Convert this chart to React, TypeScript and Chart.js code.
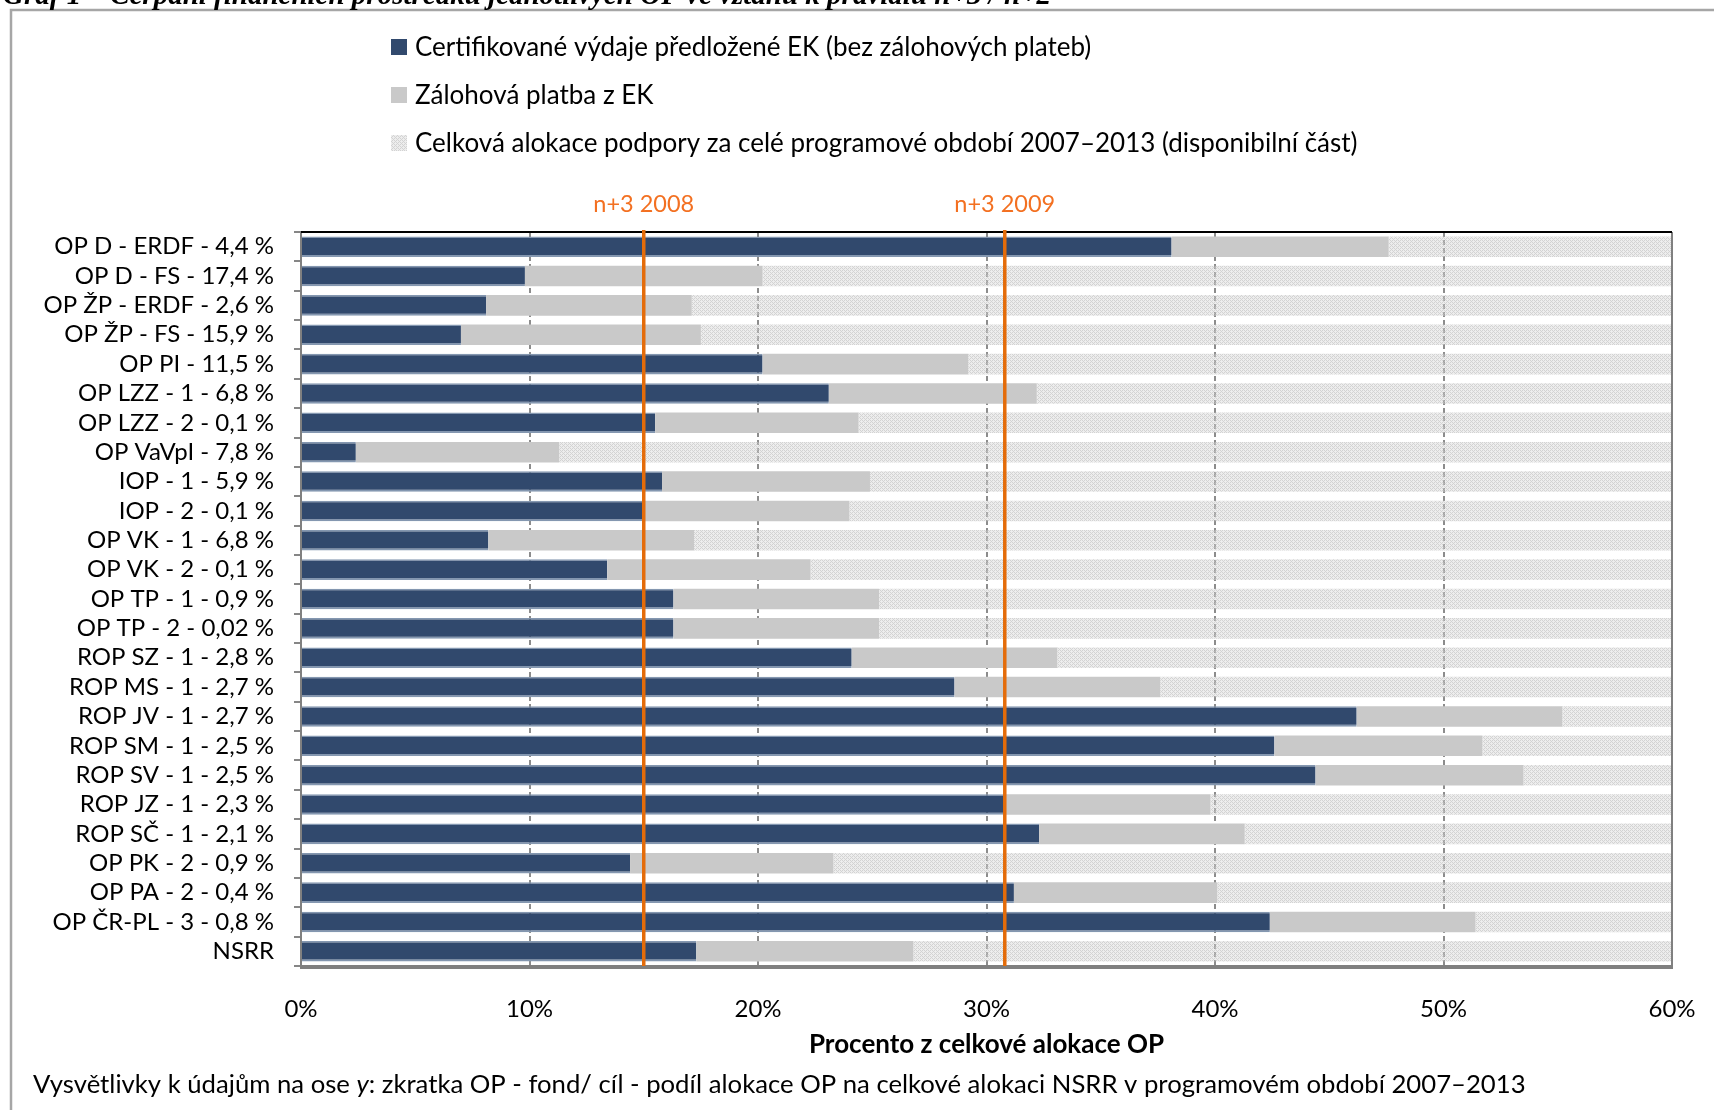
import React, { useEffect, useRef } from "react";
import { Chart, registerables } from "chart.js";

Chart.register(...registerables);

// ---------- data ----------
const categories = [
  "OP D - ERDF - 4,4 %",
  "OP D - FS - 17,4 %",
  "OP ŽP - ERDF - 2,6 %",
  "OP ŽP - FS - 15,9 %",
  "OP PI - 11,5 %",
  "OP LZZ - 1 - 6,8 %",
  "OP LZZ - 2 - 0,1 %",
  "OP VaVpI - 7,8 %",
  "IOP - 1 - 5,9 %",
  "IOP - 2 - 0,1 %",
  "OP VK - 1 - 6,8 %",
  "OP VK - 2 - 0,1 %",
  "OP TP - 1 - 0,9 %",
  "OP TP - 2 - 0,02 %",
  "ROP SZ - 1 - 2,8 %",
  "ROP MS - 1 - 2,7 %",
  "ROP JV - 1 - 2,7 %",
  "ROP SM - 1 - 2,5 %",
  "ROP SV - 1 - 2,5 %",
  "ROP JZ - 1 - 2,3 %",
  "ROP SČ - 1 - 2,1 %",
  "OP PK - 2 - 0,9 %",
  "OP PA - 2 - 0,4 %",
  "OP ČR-PL - 3 - 0,8 %",
  "NSRR",
];

// certified expenditure (% of OP allocation)
const certified = [
  38.1, 9.8, 8.1, 7.0, 20.2, 23.1, 15.5, 2.4, 15.8, 15.0, 8.2, 13.4, 16.3,
  16.3, 24.1, 28.6, 46.2, 42.6, 44.4, 30.8, 32.3, 14.4, 31.2, 42.4, 17.3,
];

// advance payment from EC (% of OP allocation)
const advance = [
  9.5, 10.4, 9.0, 10.5, 9.0, 9.1, 8.9, 8.9, 9.1, 9.0, 9.0, 8.9, 9.0, 9.0,
  9.0, 9.0, 9.0, 9.1, 9.1, 9.0, 9.0, 8.9, 8.9, 9.0, 9.5,
];

// whole allocation = 100 %
const totalAllocation = 100;

const xTickValues = [0, 10, 20, 30, 40, 50, 60];
const markerLabels = ["n+3 2008", "n+3 2009"];
const markerValues = [15.0, 30.8];

const legendLabels = [
  "Certifikované výdaje předložené EK (bez zálohových plateb)",
  "Zálohová platba z EK",
  "Celková alokace podpory za celé programové období 2007–2013 (disponibilní část)",
];
const axisTitle = "Procento z celkové alokace OP";
const chartTitle =
  "Graf 1 – Čerpání finančních prostředků jednotlivých OP ve vztahu k pravidlu n+3 / n+2";
const footBefore = "Vysvětlivky k údajům na ose ";
const footItalic = "y";
const footAfter =
  ": zkratka OP - fond/ cíl - podíl alokace OP na celkové alokaci NSRR v programovém období 2007–2013";

// ---------- styles ----------
const FONT = "Lato, 'Open Sans', sans-serif";
const DARK = "#31496D";
const DARK_EDGE = "#8497B0";
const GREY = "#C9C9C9";
const ORANGE_LINE = "#E46C0A";
const ORANGE_TEXT = "#F37021";

function makePattern(): CanvasPattern | string {
  const c = document.createElement("canvas");
  c.width = 4;
  c.height = 4;
  const g = c.getContext("2d");
  if (!g) return "#e3e3e3";
  const D = "rgba(175,175,175,0.55)";
  const L = "rgba(220,220,220,0.5)";
  const map = [
    [D, L, D, L],
    [L, L, L, D],
    [D, L, D, L],
    [L, D, L, L],
  ];
  for (let y = 0; y < 4; y++)
    for (let x = 0; x < 4; x++) {
      g.fillStyle = map[y][x];
      g.fillRect(x, y, 1, 1);
    }
  const p = g.createPattern(c, "repeat");
  return p || "#e3e3e3";
}

export default function App() {
  const ref = useRef<HTMLCanvasElement | null>(null);

  useEffect(() => {
    const canvas = ref.current;
    if (!canvas) return;
    const pattern = makePattern();
    const remaining = certified.map((c, i) => totalAllocation - c - advance[i]);

    const decor = {
      id: "decor",
      beforeDatasetsDraw(chart: any) {
        const { ctx, chartArea: a, scales } = chart;
        const x = scales.x;
        ctx.save();
        ctx.strokeStyle = "#8c8c8c";
        ctx.lineWidth = 2;
        ctx.setLineDash([5, 3]);
        for (const t of xTickValues) {
          if (t === xTickValues[0] || t === xTickValues[xTickValues.length - 1]) continue;
          const px = Math.round(x.getPixelForValue(t));
          ctx.beginPath();
          ctx.moveTo(px, a.top);
          ctx.lineTo(px, a.bottom);
          ctx.stroke();
        }
        ctx.restore();
      },
      afterDatasetsDraw(chart: any) {
        const { ctx, chartArea: a, scales } = chart;
        const x = scales.x;
        ctx.save();
        // right edge
        ctx.strokeStyle = "#808080";
        ctx.lineWidth = 2;
        ctx.beginPath();
        ctx.moveTo(a.right, a.top);
        ctx.lineTo(a.right, a.bottom);
        ctx.stroke();
        // left axis
        ctx.beginPath();
        ctx.moveTo(a.left, a.top);
        ctx.lineTo(a.left, a.bottom + 3);
        ctx.stroke();
        // top black line
        ctx.strokeStyle = "#000";
        ctx.lineWidth = 2;
        ctx.beginPath();
        ctx.moveTo(a.left, a.top);
        ctx.lineTo(a.right, a.top);
        ctx.stroke();
        // bottom thick grey floor
        ctx.strokeStyle = "#7F7F7F";
        ctx.lineWidth = 4;
        ctx.beginPath();
        ctx.moveTo(a.left, a.bottom + 1);
        ctx.lineTo(a.right + 1, a.bottom + 1);
        ctx.stroke();
        // n+3 markers
        markerValues.forEach((v, i) => {
          const px = x.getPixelForValue(v);
          ctx.strokeStyle = ORANGE_LINE;
          ctx.lineWidth = 3.5;
          ctx.beginPath();
          ctx.moveTo(px, a.top - 2);
          ctx.lineTo(px, a.bottom);
          ctx.stroke();
          ctx.fillStyle = ORANGE_TEXT;
          ctx.font = `23.5px ${FONT}`;
          ctx.textAlign = "center";
          ctx.textBaseline = "middle";
          ctx.fillText(markerLabels[i], px, 204);
        });
        ctx.restore();
      },
      afterDraw(chart: any) {
        const { ctx } = chart;
        ctx.save();
        // frame
        ctx.strokeStyle = "#A6A6A6";
        ctx.lineWidth = 2.5;
        ctx.beginPath();
        ctx.moveTo(1714, 10);
        ctx.lineTo(11, 10);
        ctx.lineTo(11, 1110);
        ctx.stroke();
        // clipped title
        ctx.fillStyle = "#000";
        ctx.font = `italic bold 29px 'Liberation Serif', 'DejaVu Serif', serif`;
        ctx.textAlign = "left";
        ctx.textBaseline = "alphabetic";
        ctx.fillText(chartTitle, 3, 4);
        // legend
        const colors: any[] = [DARK, GREY, pattern];
        ctx.font = `26px ${FONT}`;
        ctx.textBaseline = "middle";
        const rows = [47, 95, 143];
        legendLabels.forEach((t, i) => {
          const cy = rows[i];
          if (i === 2) {
            ctx.fillStyle = "#fff";
            ctx.fillRect(391, cy - 8, 16, 16);
          }
          ctx.fillStyle = colors[i];
          ctx.fillRect(391, cy - 8, 16, 16);
          ctx.fillStyle = "#000";
          ctx.fillText(t, 415, cy + 1);
        });
        // footnote
        ctx.font = `25.7px ${FONT}`;
        ctx.fillStyle = "#000";
        let fx = 33;
        const fy = 1085;
        ctx.fillText(footBefore, fx, fy);
        fx += ctx.measureText(footBefore).width;
        ctx.font = `italic 25.7px ${FONT}`;
        ctx.fillText(footItalic, fx, fy);
        fx += ctx.measureText(footItalic).width;
        ctx.font = `25.7px ${FONT}`;
        ctx.fillText(footAfter, fx, fy);
        ctx.restore();
      },
    };

    const chart = new Chart(canvas, {
      type: "bar",
      data: {
        labels: categories,
        datasets: [
          {
            label: legendLabels[0],
            data: certified,
            backgroundColor: DARK,
            borderColor: DARK_EDGE,
            borderWidth: { top: 1.5, bottom: 2, left: 0, right: 0 },
            borderSkipped: false,
            barPercentage: 0.7,
            categoryPercentage: 1,
          },
          {
            label: legendLabels[1],
            data: advance,
            backgroundColor: GREY,
            borderWidth: 0,
            barPercentage: 0.7,
            categoryPercentage: 1,
          },
          {
            label: legendLabels[2],
            data: remaining,
            backgroundColor: pattern as any,
            borderWidth: 0,
            barPercentage: 0.7,
            categoryPercentage: 1,
          },
        ],
      },
      options: {
        indexAxis: "y",
        responsive: false,
        animation: false,
        devicePixelRatio: 1,
        layout: { padding: { top: 232, bottom: 50, left: 0, right: 42 } },
        plugins: {
          legend: { display: false },
          title: { display: false },
          tooltip: { enabled: false },
        },
        scales: {
          x: {
            stacked: true,
            min: 0,
            max: 60,
            grid: { display: false, drawTicks: true, tickLength: 29 },
            border: { display: false },
            ticks: {
              stepSize: 10,
              padding: 0,
              color: "#000",
              font: { family: FONT, size: 24 },
              callback: (v: any) => `${v}%`,
            },
            title: {
              display: true,
              text: axisTitle,
              color: "#000",
              font: { family: FONT, size: 26, weight: "bold" },
              padding: { top: 0, bottom: 0 },
            },
            afterFit: (s: any) => {
              s.height = 94;
            },
          },
          y: {
            stacked: true,
            grid: {
              display: true,
              drawOnChartArea: false,
              drawTicks: true,
              tickLength: 7,
              color: "#868686",
              lineWidth: 2,
            },
            border: { display: false },
            ticks: {
              padding: 20,
              color: "#000",
              font: { family: FONT, size: 24 },
              autoSkip: false,
            },
            afterFit: (s: any) => {
              s.width = 301;
            },
          },
        },
      },
      plugins: [decor],
    });

    return () => chart.destroy();
  }, []);

  return (
    <div style={{ position: "absolute", left: 0, top: 0, width: 1714, height: 1110, background: "#fff" }}>
      <canvas ref={ref} width={1714} height={1110} style={{ display: "block" }} />
    </div>
  );
}
